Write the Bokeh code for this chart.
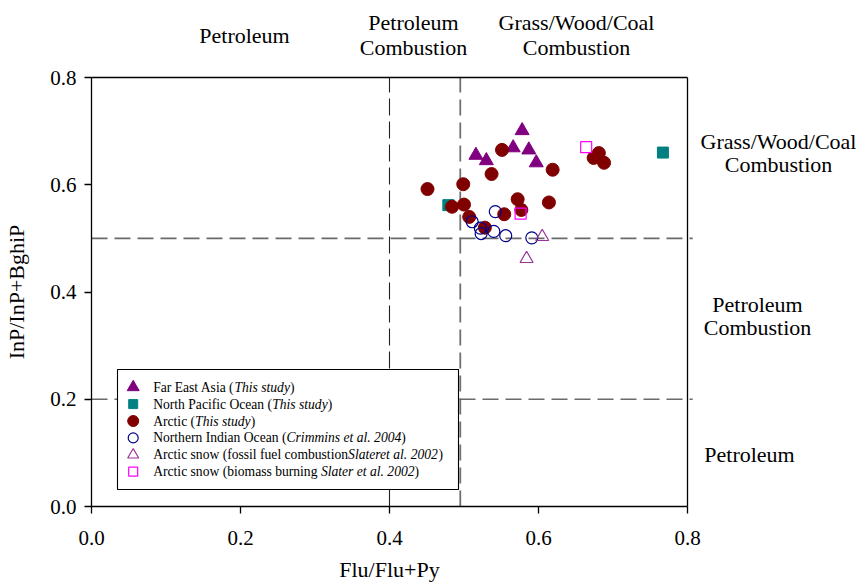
from bokeh.plotting import figure
from bokeh.models import Label, FixedTicker, Range1d, LinearAxis
from bokeh.embed import file_html
from bokeh.resources import INLINE

# ---------------- data ----------------
fea_x = [0.516, 0.530, 0.566, 0.578, 0.587, 0.597]          # Far East Asia
fea_y = [0.655, 0.645, 0.669, 0.701, 0.665, 0.641]
npo_x = [0.479, 0.767]                                        # North Pacific Ocean
npo_y = [0.562, 0.660]
arc_x = [0.451, 0.499, 0.484, 0.500, 0.507, 0.528, 0.537, 0.551,
         0.572, 0.577, 0.554, 0.614, 0.619, 0.681, 0.674, 0.688]   # Arctic
arc_y = [0.592, 0.601, 0.559, 0.563, 0.540, 0.520, 0.620, 0.665,
         0.573, 0.553, 0.545, 0.567, 0.628, 0.659, 0.650, 0.641]
nio_x = [0.542, 0.511, 0.522, 0.523, 0.540, 0.556, 0.591]    # Northern Indian Ocean
nio_y = [0.550, 0.531, 0.519, 0.509, 0.513, 0.505, 0.501]
asf_x = [0.605, 0.584]                                        # Arctic snow fossil fuel
asf_y = [0.503, 0.462]
asb_x = [0.664, 0.576]                                        # Arctic snow biomass
asb_y = [0.670, 0.546]

x_bounds = [0.4, 0.495]
y_bounds = [0.5, 0.2]
axis_min, axis_max = 0.0, 0.8
ticks = [0.0, 0.2, 0.4, 0.6, 0.8]
tick_labels = {0.0: "0.0", 0.2: "0.2", 0.4: "0.4", 0.6: "0.6", 0.8: "0.8"}

legend_names = [
    ("Far East Asia (", "This study", ")"),
    ("North Pacific Ocean (", "This study", ")"),
    ("Arctic (", "This study", ")"),
    ("Northern Indian Ocean (", "Crimmins et al. 2004", ")"),
    ("Arctic snow (fossil fuel combustion", "Slateret al. 2002", ")"),
    ("Arctic snow (biomass burning ", "Slater et al. 2002", ")"),
]

# ---------------- layout helpers ----------------
FONT = "Liberation Serif"
FL, FR, FT, FB = 91, 687, 77, 506     # plot box in pixels
W, H = 859, 582


def dx(px):
    return (px - FL) / (FR - FL) * (axis_max - axis_min) + axis_min


def dy(py):
    return (FB - py) / (FB - FT) * (axis_max - axis_min) + axis_min


# Times metrics (per 1000 em)
ROMAN = {" ": 250, "(": 333, ")": 333, "A": 722, "E": 611, "F": 556, "I": 333, "N": 722,
         "O": 722, "P": 556, "a": 444, "b": 500, "c": 444, "d": 500, "e": 444, "f": 333,
         "g": 500, "h": 500, "i": 278, "l": 278, "m": 778, "n": 500, "o": 500, "r": 333,
         "s": 389, "t": 278, "u": 500, "w": 722, "y": 500}
ITAL = {" ": 250, "T": 556, "h": 500, "i": 278, "s": 389, "t": 278, "u": 500, "d": 500,
        "y": 444, "C": 667, "r": 389, "m": 722, "n": 500, "e": 444, "a": 500, "l": 278,
        ".": 250, "2": 500, "0": 500, "4": 500, "S": 500}


def tw(s, table, size):
    return sum(table.get(c, 500) for c in s) * size / 1000.0


# The frame covers the whole canvas; the axes are drawn at fixed locations
p = figure(width=W, height=H, output_backend="svg", toolbar_location=None,
           x_range=Range1d(dx(0), dx(W)), y_range=Range1d(dy(H), dy(0)),
           x_axis_type=None, y_axis_type=None,
           min_border=0, background_fill_color="white", border_fill_color="white")
p.grid.visible = False
p.outline_line_color = None


def style_axis(ax, tout, labels=True):
    ax.bounds = (axis_min, axis_max)
    ax.axis_line_color = "black"
    ax.axis_line_width = 1.3
    ax.major_tick_line_color = "black"
    ax.major_tick_line_width = 1.3
    ax.major_tick_in = 0
    ax.major_tick_out = tout
    ax.minor_tick_line_color = None
    ax.major_label_text_font = FONT
    ax.major_label_text_font_size = "21px"
    ax.major_label_text_color = "black"
    ax.axis_label_text_font = FONT
    ax.axis_label_text_font_size = "22px"
    ax.axis_label_text_font_style = "normal"
    ax.axis_label_text_color = "black"
    if labels:
        ax.ticker = FixedTicker(ticks=ticks)
        ax.major_label_overrides = tick_labels
    else:
        ax.ticker = FixedTicker(ticks=[])


xaxis = LinearAxis(fixed_location=axis_min, axis_label="Flu/Flu+Py")
style_axis(xaxis, 7)
xaxis.major_label_standoff = 17
xaxis.axis_label_standoff = 9
p.add_layout(xaxis, "below")

yaxis = LinearAxis(fixed_location=axis_min, axis_label="InP/InP+BghiP")
style_axis(yaxis, 7)
yaxis.major_label_standoff = 8
yaxis.axis_label_standoff = 18
p.add_layout(yaxis, "left")

top_axis = LinearAxis(fixed_location=axis_max)
style_axis(top_axis, 0, labels=False)
p.add_layout(top_axis, "above")

right_axis = LinearAxis(fixed_location=axis_max)
style_axis(right_axis, 0, labels=False)
p.add_layout(right_axis, "right")

# boundary lines (dashed)
p.segment(x0=[x_bounds[0]], y0=[axis_min], x1=[x_bounds[0]], y1=[axis_max],
          line_color="#202020", line_width=1.1, line_dash="17 6")
p.segment(x0=[x_bounds[1]], y0=[axis_min], x1=[x_bounds[1]], y1=[axis_max],
          line_color="#707070", line_width=1.8, line_dash="16 7")
p.segment(x0=[axis_min] * len(y_bounds), y0=y_bounds,
          x1=[axis_max + 0.007] * len(y_bounds), y1=y_bounds,
          line_color="#6a6a6a", line_width=1.6, line_dash="16 7")

# legend box
LB_L, LB_R, LB_T, LB_B = 117, 458, 369, 489
p.quad(left=[dx(LB_L)], right=[dx(LB_R)], top=[dy(LB_T)], bottom=[dy(LB_B)],
       fill_color="white", line_color="black", line_width=1.1)

# data
styles = [
    dict(marker="triangle", size=14, fill_color="#800080", line_color="#800080"),
    dict(marker="square", size=11, fill_color="#008080", line_color="#008080"),
    dict(marker="circle", size=13, fill_color="#800000", line_color="#800000"),
    dict(marker="circle", size=12, fill_color=None, line_color="#00008B", line_width=1.2),
    dict(marker="triangle", size=13, fill_color=None, line_color="#993399", line_width=1.2),
    dict(marker="square", size=11, fill_color=None, line_color="#FF00FF", line_width=1.2),
]
series = [(fea_x, fea_y), (npo_x, npo_y), (arc_x, arc_y), (nio_x, nio_y),
          (asf_x, asf_y), (asb_x, asb_y)]
for (xs, ys), st in zip(series, styles):
    p.scatter(xs, ys, **st)

# legend keys and texts
LS = 13.6
key_x = 132.7
text_x = 152.7
for i, ((a, b, c), st) in enumerate(zip(legend_names, styles)):
    ry = 386.7 + 16.9 * i
    kst = dict(st)
    kst["size"] = st["size"] - 2
    p.scatter([dx(key_x)], [dy(ry)], **kst)
    x0 = text_x
    for txt, style, table in ((a, "normal", ROMAN), (b, "italic", ITAL), (c, "normal", ROMAN)):
        p.add_layout(Label(x=dx(x0), y=dy(ry), text=txt, text_font=FONT,
                           text_font_size=f"{LS}px", text_font_style=style,
                           text_align="left", text_baseline="middle", text_color="black"))
        x0 += tw(txt, table, LS)

# region labels
RS = "22px"
region = [
    ("Petroleum", 244, 35),
    ("Petroleum", 413, 22), ("Combustion", 413, 47),
    ("Grass/Wood/Coal", 576, 22), ("Combustion", 576, 47),
    ("Grass/Wood/Coal", 778, 141), ("Combustion", 778, 164),
    ("Petroleum", 757, 304), ("Combustion", 757, 327),
    ("Petroleum", 749, 454),
]
for txt, px, py in region:
    p.add_layout(Label(x=dx(px), y=dy(py), text=txt, text_font=FONT, text_font_size=RS,
                       text_align="center", text_baseline="middle", text_color="black"))

open("out.html", "w").write(file_html(p, INLINE))
